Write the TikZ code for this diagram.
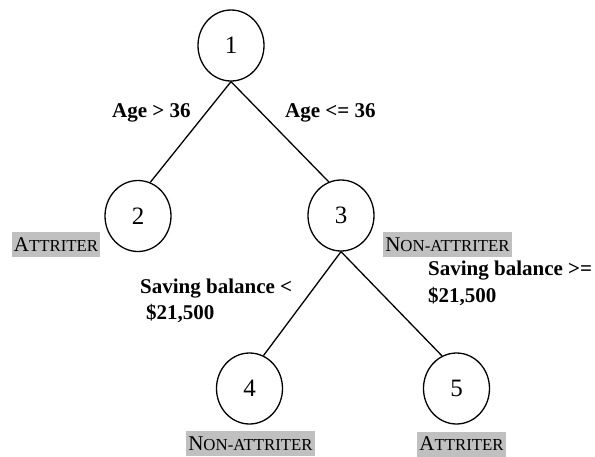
\documentclass[tikz,border=0pt]{standalone}
\usepackage{fontspec}
\setmainfont{Liberation Serif}
\usetikzlibrary{shapes.geometric}
\definecolor{leafgray}{RGB}{192,192,192}
\newcommand{\fakesc}[2]{{\fontsize{21}{25}\selectfont #1}{\fontsize{16.8}{20}\selectfont #2}}
\tikzset{
  treenode/.style={ellipse, draw, line width=1.3pt, minimum width=66pt, minimum height=71pt, inner sep=0pt, font=\fontsize{25}{30}\selectfont},
  edge/.style={line width=1.3pt},
  cond/.style={inner sep=0pt, anchor=base west, font=\fontsize{21}{25}\selectfont\bfseries},
  leaf/.style={fill=leafgray, inner sep=2pt, minimum height=25pt, text depth=0pt}
}
\begin{document}
\begin{tikzpicture}[x=1pt,y=-1pt]
\useasboundingbox (0,0) rectangle (595,456);
\node[treenode] (n1) at (231,45.5) {1};
\node[treenode] (n2) at (138,216) {2};
\node[treenode] (n3) at (341,215.5) {3};
\node[treenode] (n4) at (249.5,388.5) {4};
\node[treenode] (n5) at (456.5,388.5) {5};
\draw[edge] (n1.south) -- (n2.70);
\draw[edge] (n1.south) -- (n3.110);
\draw[edge] (n3.south) -- (n4.67);
\draw[edge] (n3.south) -- (n5.114);
\node[cond] (c1) at (112,117) {Age > 36};
\node[cond] (c2) at (285,117) {Age <= 36};
\node[cond] (c3a) at (140,293) {Saving balance <};
\node[cond] (c3b) at (146,319) {\$21,500};
\node[cond] (c4a) at (428,275) {Saving balance >=};
\node[cond] (c4b) at (428,302) {\$21,500};
\node[leaf] (l2) at (56,244.5) {\fakesc{A}{TTRITER}};
\node[leaf] (l3) at (447.5,244.5) {\fakesc{N}{ON-ATTRITER}};
\node[leaf] (l4) at (250.5,443.5) {\fakesc{N}{ON-ATTRITER}};
\node[leaf] (l5) at (461.5,444) {\fakesc{A}{TTRITER}};
\end{tikzpicture}
\end{document}
